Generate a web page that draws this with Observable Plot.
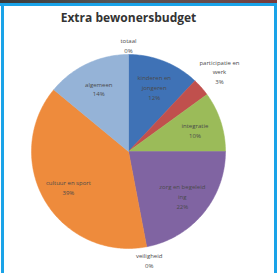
<!DOCTYPE html>
<html><head><meta charset="utf-8">
<script src="https://cdn.jsdelivr.net/npm/d3@7"></script>
<script src="https://cdn.jsdelivr.net/npm/@observablehq/plot@0.6"></script>
<style>
body{margin:0;background:#fff;}
#wrap{position:relative;width:277px;height:273px;overflow:hidden;background:#fff;}
#topstrip{position:absolute;left:0;top:0;width:277px;height:3px;background:linear-gradient(90deg,#3a3a3a,#555 40%,#6a4a4a 80%,#7a3a3a);}
#topline{position:absolute;left:0;top:3px;width:277px;height:3px;background:#1aa3e8;}
#leftline{position:absolute;left:1px;top:3px;width:3px;height:270px;background:#1aa3e8;}
#rightline{position:absolute;left:274px;top:3px;width:3px;height:270px;background:#1aa3e8;}
#chart{position:absolute;left:0;top:0;}
</style></head>
<body><div id="wrap"><div id="chart"></div><div id="topstrip"></div><div id="topline"></div><div id="leftline"></div><div id="rightline"></div></div>
<script>
const title = "Extra bewonersbudget";
const categories = ["totaal", "kinderen en\njongeren", "participatie en\nwerk", "integratie", "zorg en begeleid\ning", "veiligheid", "cultuur en sport", "algemeen"];
const values = [0, 12, 3, 10, 22, 0, 39, 14];
const colors = ["#4f81bd", "#3f72b6", "#c0504d", "#9bbb59", "#8064a2", "#4bacc6", "#ee8b3c", "#95b3d7"];

const W = 277, H = 273, cx = 128, cy = 151, R = 97;
const pie = d3.pie().sort(null).value(d => d.value);
const rows = categories.map((c, i) => ({category: c, value: values[i], color: colors[i], i}));
const arcs = pie(rows);

const poly = [];
arcs.forEach(a => {
  if (a.data.value === 0) return;
  const n = Math.max(8, Math.ceil((a.endAngle - a.startAngle) * 60));
  poly.push({k: a.data.i, x: 0, y: 0, color: a.data.color});
  for (let j = 0; j <= n; j++) {
    const t = a.startAngle + (a.endAngle - a.startAngle) * j / n;
    poly.push({k: a.data.i, x: Math.sin(t), y: Math.cos(t), color: a.data.color});
  }
  poly.push({k: a.data.i, x: 0, y: 0, color: a.data.color});
});

const labels = arcs.map(a => {
  const m = (a.startAngle + a.endAngle) / 2;
  const s = Math.sin(m);
  const r = a.data.value < 5 ? 1.1 + 0.2 * Math.abs(s) : 0.72;
  return {x: s * r, y: Math.cos(m) * r, text: a.data.category + "\n" + a.data.value + "%"};
});

const plot = Plot.plot({
  width: W, height: H, margin: 0,
  x: {domain: [-cx / R, (W - cx) / R], axis: null},
  y: {domain: [(cy - H) / R, cy / R], axis: null},
  style: {fontFamily: "Open Sans, sans-serif", background: "transparent"},
  marks: [
    Plot.line(poly, {x: "x", y: "y", z: "k", fill: "color", stroke: "color", strokeWidth: 0.5, curve: "linear"}),
    Plot.text(labels, {x: "x", y: "y", text: "text", fontSize: 6, lineHeight: 1.65, fill: "#4a4a4a", textAnchor: "middle"}),
    Plot.text([title], {x: 0, y: (cy - 18) / R, text: d => d, fontSize: 12, fontWeight: "bold", fill: "#333", textAnchor: "middle"})
  ]
});
document.getElementById("chart").appendChild(plot);
</script></body></html>
